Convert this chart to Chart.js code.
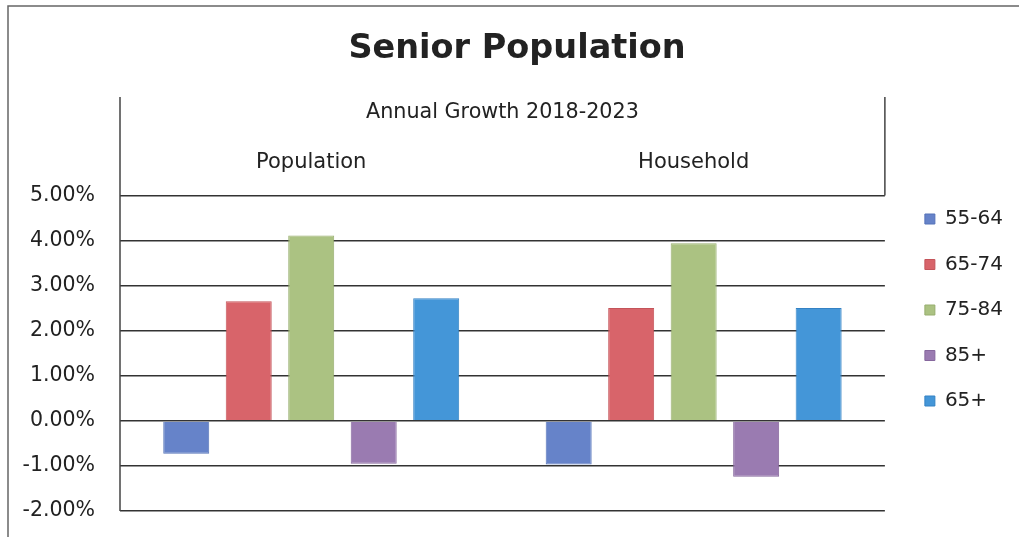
<!DOCTYPE html>
<html lang="en">
  <head>
    <meta charset="UTF-8" />
    <title>Senior Population</title>
    <script src="https://cdn.jsdelivr.net/npm/chart.js"></script>
    <style>
      html, body { margin: 0; padding: 0; background: #fff; }
      #wrap { width: 1019px; height: 537px; }
    </style>
  </head>
  <body>
    <div id="wrap"><canvas id="seniorChart" width="1019" height="537"></canvas></div>

    <script>
      // categories + series (annual growth in %)
      const categories = ["Population", "Household"];
      const ageGroups = ["55-64", "65-74", "75-84", "85+", "65+"];
      const growth5564 = [-0.73, -0.97];
      const growth6574 = [2.65, 2.5];
      const growth7584 = [4.11, 3.94];
      const growth85 = [-0.95, -1.24];
      const growth65 = [2.72, 2.5];
      const yTicks = [-2, -1, 0, 1, 2, 3, 4, 5];

      const fills = ["#6683c9", "#d8646a", "#abc282", "#9a7bb1", "#4496d8"];
      const edges = ["#5573b8", "#c4545a", "#97ae6e", "#86679d", "#3482c4"];
      const series = [growth5564, growth6574, growth7584, growth85, growth65];

      const FONT = "'DejaVu Sans', sans-serif";

      // outer frame + the box lines around the top category axis
      const frameLines = {
        id: "frameLines",
        afterDraw(chart) {
          const c = chart.ctx;
          const area = chart.chartArea;
          c.save();
          c.strokeStyle = "#666";
          c.lineWidth = 1.5;
          c.beginPath();
          c.moveTo(8, 537);
          c.lineTo(8, 6);
          c.lineTo(1019, 6);
          c.stroke();
          c.strokeStyle = "#444";
          c.beginPath();
          c.moveTo(area.left, area.bottom);
          c.lineTo(area.left, 97);
          c.moveTo(area.right, 97);
          c.lineTo(area.right, area.top);
          c.stroke();
          c.restore();
        },
      };

      const ctx = document.getElementById("seniorChart").getContext("2d");

      new Chart(ctx, {
        type: "bar",
        data: {
          labels: categories,
          datasets: ageGroups.map((name, i) => ({
            label: name,
            data: series[i],
            backgroundColor: fills[i],
            borderColor: edges[i],
            borderWidth: 1,
            categoryPercentage: 0.817,
            barPercentage: 0.736,
          })),
        },
        options: {
          responsive: false,
          animation: false,
          layout: { padding: { top: 26, right: 6, bottom: 26, left: 21 } },
          scales: {
            x: {
              position: "top",
              grid: { display: false, drawTicks: false },
              border: { display: false },
              ticks: {
                padding: 20,
                color: "#222",
                font: { family: FONT, size: 21 },
              },
              title: {
                display: true,
                text: "Annual Growth 2018-2023",
                color: "#222",
                padding: { top: 31, bottom: 0 },
                font: { family: FONT, size: 20.7 },
              },
              afterFit(scale) {
                scale.height = 126.2;
              },
            },
            y: {
              min: -2,
              max: 5,
              afterBuildTicks(scale) {
                scale.ticks = yTicks.map((v) => ({ value: v }));
              },
              grid: { color: "#333", lineWidth: 1.6, drawTicks: false },
              border: { display: false },
              ticks: {
                padding: 25,
                color: "#222",
                font: { family: FONT, size: 20.5 },
                callback: (v) => v.toFixed(2) + "%",
              },
              afterFit(scale) {
                scale.width = 99;
                // tick padding should not eat into the plot height
                scale.paddingTop = 12;
                scale.paddingBottom = 12;
              },
            },
            y2: {
              position: "right",
              grid: { display: false, drawTicks: false },
              border: { display: false },
              ticks: { display: false },
              afterFit(scale) {
                scale.width = 14.5;
              },
            },
          },
          plugins: {
            title: {
              display: true,
              text: "Senior Population",
              color: "#222",
              padding: { top: 3, bottom: 0 },
              font: { family: FONT, size: 33.5, weight: "bold" },
            },
            legend: {
              position: "right",
              title: { display: true, text: "", padding: { top: 71, bottom: 0 }, font: { size: 10 } },
              labels: {
                boxWidth: 10,
                boxHeight: 10,
                padding: 25.5,
                color: "#222",
                font: { family: FONT, size: 20 },
              },
            },
            tooltip: { enabled: false },
          },
        },
        plugins: [frameLines],
      });
    </script>
  </body>
</html>
